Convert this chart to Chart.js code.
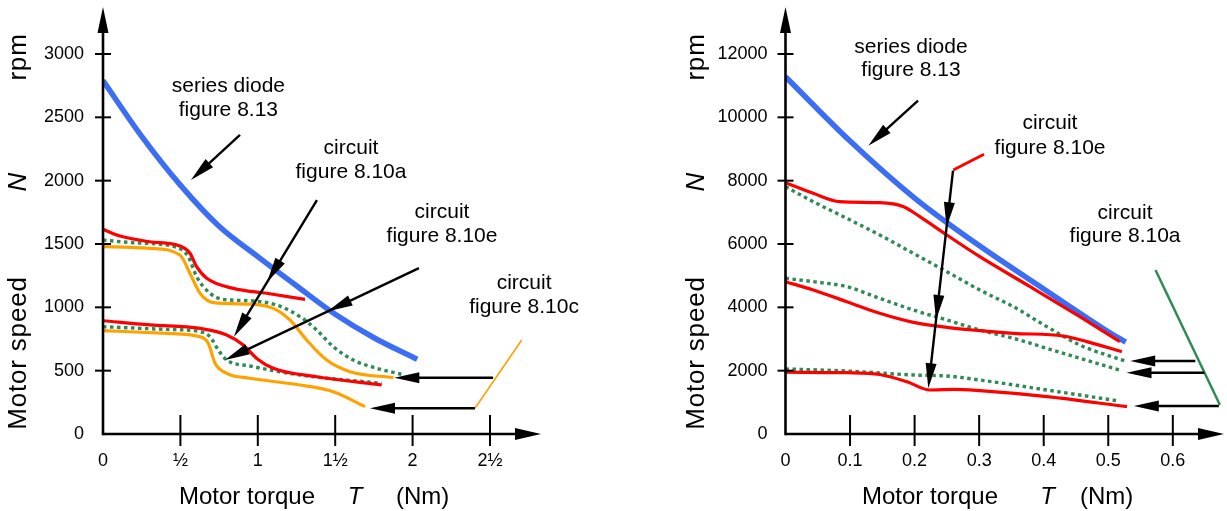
<!DOCTYPE html>
<html><head><meta charset="utf-8">
<script src="https://cdn.jsdelivr.net/npm/chart.js@4/dist/chart.umd.min.js"></script>
<style>
html,body{margin:0;padding:0;background:#fff;width:1227px;height:511px;overflow:hidden}
#lw{position:absolute;left:0;top:0;width:620px;height:511px}
#rw{position:absolute;left:620px;top:0;width:607px;height:511px}
canvas{display:block}
</style></head><body>
<div id="lw"><canvas id="lc" width="620" height="511"></canvas></div>
<div id="rw"><canvas id="rc" width="607" height="511"></canvas></div>
<script>
// ---------- LEFT PANEL DATA (torque Nm, speed rpm) ----------
const leftTorqueTicks = [0, 0.5, 1, 1.5, 2, 2.5];
const leftTorqueTickLabels = ['0', '½', '1', '1½', '2', '2½'];
const leftSpeedTicks = [0, 500, 1000, 1500, 2000, 2500, 3000];
const leftSpeedTickLabels = ['0', '500', '1000', '1500', '2000', '2500', '3000'];

const leftDiodeT = [0, 0.25, 0.5, 0.75, 1.0, 1.25, 1.5, 1.75, 2.03];
const leftDiodeN = [2790, 2350, 1965, 1640, 1400, 1170, 945, 760, 590];

const leftRedHighT = [0, 0.11, 0.3, 0.497, 0.562, 0.605, 0.67, 0.842, 1.057, 1.305];
const leftRedHighN = [1616, 1563, 1518, 1484, 1427, 1321, 1229, 1150, 1111, 1063];

const leftGreenHighT = [0, 0.196, 0.476, 0.551, 0.605, 0.691, 0.777, 0.95, 1.122, 1.273, 1.38, 1.488, 1.617, 1.768, 1.94];
const leftGreenHighN = [1531, 1510, 1474, 1400, 1242, 1111, 1063, 1052, 1018, 926, 821, 689, 584, 519, 468];

const leftOrangeHighT = [0, 0.304, 0.497, 0.562, 0.627, 0.713, 0.95, 1.10, 1.208, 1.316, 1.445, 1.596, 1.875];
const leftOrangeHighN = [1479, 1466, 1413, 1268, 1111, 1037, 1026, 992, 900, 742, 584, 492, 445];

const leftRedLowT = [0, 0.304, 0.627, 0.799, 0.906, 0.993, 1.10, 1.38, 1.80];
const leftRedLowN = [894, 861, 834, 782, 703, 597, 519, 452, 387];

const leftGreenLowT = [0, 0.411, 0.627, 0.691, 0.745, 0.799, 0.95, 1.273, 1.80];
const leftGreenLowN = [847, 826, 808, 768, 663, 584, 537, 466, 400];

const leftOrangeLowT = [0, 0.411, 0.627, 0.68, 0.724, 0.799, 0.95, 1.273, 1.488, 1.693];
const leftOrangeLowN = [816, 795, 768, 716, 558, 479, 440, 387, 334, 216];

// ---------- RIGHT PANEL DATA ----------
const rightTorqueTicks = [0, 0.1, 0.2, 0.3, 0.4, 0.5, 0.6];
const rightTorqueTickLabels = ['0', '0.1', '0.2', '0.3', '0.4', '0.5', '0.6'];
const rightSpeedTicks = [0, 2000, 4000, 6000, 8000, 10000, 12000];
const rightSpeedTickLabels = ['0', '2000', '4000', '6000', '8000', '10000', '12000'];

const rightDiodeT = [0, 0.1, 0.2, 0.3, 0.4, 0.5, 0.527];
const rightDiodeN = [11280, 9250, 7450, 5950, 4580, 3230, 2900];

const rightRedHighT = [0, 0.043, 0.084, 0.146, 0.183, 0.208, 0.25, 0.301, 0.379, 0.456, 0.518];
const rightRedHighN = [7937, 7600, 7337, 7305, 7179, 6863, 6284, 5600, 4652, 3705, 2916];

const rightGreenHighT = [0, 0.043, 0.095, 0.146, 0.198, 0.25, 0.301, 0.353, 0.405, 0.456, 0.529];
const rightGreenHighN = [7810, 7337, 6810, 6284, 5705, 5126, 4547, 4021, 3389, 2810, 2284];

const rightRedMidT = [0, 0.043, 0.095, 0.146, 0.198, 0.25, 0.301, 0.353, 0.43, 0.467, 0.521];
const rightRedMidN = [4810, 4547, 4179, 3811, 3526, 3368, 3263, 3179, 3095, 2916, 2600];

const rightGreenMidT = [0, 0.043, 0.095, 0.146, 0.198, 0.25, 0.301, 0.353, 0.405, 0.456, 0.521];
const rightGreenMidN = [4916, 4810, 4652, 4284, 3916, 3600, 3284, 3021, 2705, 2389, 2000];

const rightRedLowT = [0, 0.095, 0.146, 0.188, 0.224, 0.26, 0.301, 0.405, 0.529];
const rightRedLowN = [1950, 1935, 1880, 1652, 1389, 1410, 1368, 1179, 863];

const rightGreenLowT = [0, 0.095, 0.198, 0.25, 0.301, 0.405, 0.513];
const rightGreenLowN = [2053, 1989, 1863, 1832, 1705, 1389, 1053];

// ---------- STYLES ----------
const FONT = "'Liberation Sans', Arial, Helvetica, sans-serif";
const BLUE = '#3c6ef5', RED = '#ff0000', ORANGE = '#ffa200', GREEN = '#2e8b57';
Chart.defaults.font.family = FONT;
Chart.defaults.color = '#000';

function pts(T, N) { return T.map((t, i) => ({x: t, y: N[i]})); }
function ds(T, N, color, width, dash) {
  return {data: pts(T, N), showLine: true, pointRadius: 0, borderColor: color, borderWidth: width,
    borderDash: dash || [], cubicInterpolationMode: 'monotone', fill: false,
    borderCapStyle: 'butt', borderJoinStyle: 'round'};
}
const DOT = [3.5, 3.5];

// ---------- ANNOTATIONS (data units) ----------
const leftNotes = {
  texts: [
    ['series diode', 0.81, 2747], ['figure 8.13', 0.81, 2558],
    ['circuit', 1.602, 2258], ['figure 8.10a', 1.602, 2068],
    ['circuit', 2.19, 1753], ['figure 8.10e', 2.19, 1563],
    ['circuit', 2.72, 1192], ['figure 8.10c', 2.72, 1003]
  ],
  arrows: [
    {from: [0.885, 2361], to: [0.568, 2005], heads: [1]},
    {from: [1.382, 1847], to: [0.846, 768], heads: [0.6, 1]},
    {from: [2.041, 1310], to: [0.788, 584], heads: [0.47, 1]},
    {from: [2.52, 444], to: [1.882, 444], heads: [1]},
    {from: [2.403, 203], to: [1.725, 203], heads: [1]}
  ],
  lines: [
    {from: [2.403, 203], to: [2.705, 742], color: ORANGE, width: 1.6}
  ],
  title: {mt: 76, T: 252, nm: 293, y: 497, vx: 19}
};
const rightNotes = {
  texts: [
    ['series diode', 0.1944, 12221], ['figure 8.13', 0.1944, 11495],
    ['circuit', 0.4098, 9821], ['figure 8.10e', 0.4098, 9032],
    ['circuit', 0.526, 6979], ['figure 8.10a', 0.526, 6253]
  ],
  arrows: [
    {from: [0.2053, 10525], to: [0.1283, 9104], heads: [1]},
    {from: [0.2595, 8315], to: [0.2212, 1443], heads: [0.26, 0.686, 1]},
    {from: [0.6349, 2305], to: [0.534, 2305], heads: [1]},
    {from: [0.6488, 1936], to: [0.5283, 1936], heads: [1]},
    {from: [0.6713, 884], to: [0.5396, 884], heads: [1]}
  ],
  lines: [
    {from: [0.26, 8337], to: [0.3075, 8833], color: RED, width: 3},
    {from: [0.5732, 5179], to: [0.673, 916], color: GREEN, width: 2.5}
  ],
  title: {mt: 76.5, T: 262, nm: 294.5, y: 497, vx: 77}
};

function head(ctx, x, y, ang, len, hw) {
  ctx.save();
  ctx.translate(x, y); ctx.rotate(ang);
  ctx.beginPath(); ctx.moveTo(0, 0); ctx.lineTo(-len, -hw); ctx.lineTo(-len, hw); ctx.closePath();
  ctx.fill();
  ctx.restore();
}

function decorPlugin(notes, xTicks, yTicks) {
  return {
    id: 'decor',
    afterDraw(chart) {
      const ctx = chart.ctx, a = chart.chartArea, sx = chart.scales.x, sy = chart.scales.y;
      const P = (v) => [sx.getPixelForValue(v[0]), sy.getPixelForValue(v[1])];
      ctx.save();
      ctx.strokeStyle = '#000'; ctx.fillStyle = '#000';
      // axes
      ctx.lineWidth = 2.6; ctx.lineCap = 'butt';
      ctx.beginPath(); ctx.moveTo(a.left, a.bottom); ctx.lineTo(a.right - 20, a.bottom); ctx.stroke();
      ctx.beginPath(); ctx.moveTo(a.left, a.bottom + 1.3); ctx.lineTo(a.left, a.top + 20); ctx.stroke();
      head(ctx, a.right, a.bottom, 0, 26, 6);
      head(ctx, a.left, a.top, -Math.PI / 2, 26, 5.5);
      // tick marks
      ctx.lineWidth = 2;
      xTicks.forEach(v => { if (v === 0) return; const x = sx.getPixelForValue(v);
        ctx.beginPath(); ctx.moveTo(x, a.bottom - 19); ctx.lineTo(x, a.bottom + 12); ctx.stroke(); });
      yTicks.forEach(v => { if (v === 0) return; const y = sy.getPixelForValue(v);
        ctx.beginPath(); ctx.moveTo(a.left - 8, y); ctx.lineTo(a.left + 8, y); ctx.stroke(); });
      // pointer lines
      notes.lines.forEach(l => {
        const p1 = P(l.from), p2 = P(l.to);
        ctx.strokeStyle = l.color; ctx.lineWidth = l.width;
        ctx.beginPath(); ctx.moveTo(p1[0], p1[1]); ctx.lineTo(p2[0], p2[1]); ctx.stroke();
      });
      // arrows
      ctx.strokeStyle = '#000'; ctx.fillStyle = '#000'; ctx.lineWidth = 2.4;
      notes.arrows.forEach(ar => {
        const p1 = P(ar.from), p2 = P(ar.to);
        const ang = Math.atan2(p2[1] - p1[1], p2[0] - p1[0]);
        const L = Math.hypot(p2[0] - p1[0], p2[1] - p1[1]);
        ctx.beginPath(); ctx.moveTo(p1[0], p1[1]);
        ctx.lineTo(p2[0] - Math.cos(ang) * 18, p2[1] - Math.sin(ang) * 18); ctx.stroke();
        ar.heads.forEach(f => {
          head(ctx, p1[0] + (p2[0] - p1[0]) * f, p1[1] + (p2[1] - p1[1]) * f, ang, 25, 5.5);
        });
      });
      // annotation texts
      ctx.font = '21px ' + FONT; ctx.textAlign = 'center'; ctx.textBaseline = 'middle';
      notes.texts.forEach(t => { const p = P([t[1], t[2]]); ctx.fillText(t[0], p[0], p[1]); });
      // x axis title
      const tt = notes.title;
      ctx.font = '24px ' + FONT; ctx.textAlign = 'left';
      ctx.fillText('Motor torque', a.left + tt.mt, tt.y);
      ctx.fillText('(Nm)', a.left + tt.nm, tt.y);
      ctx.font = 'italic 24px ' + FONT; ctx.textAlign = 'center';
      ctx.fillText('T', a.left + tt.T, tt.y);
      // y axis titles (rotated)
      ctx.save();
      ctx.translate(tt.vx, 0); ctx.rotate(-Math.PI / 2);
      ctx.textAlign = 'center'; ctx.textBaseline = 'middle';
      ctx.font = '26px ' + FONT;
      try { ctx.letterSpacing = '0.8px'; } catch (e) {}
      ctx.fillText('Motor speed', -353, 0);
      ctx.fillText('rpm', -57, 0);
      try { ctx.letterSpacing = '0px'; } catch (e) {}
      ctx.font = 'italic 26px ' + FONT;
      ctx.fillText('N', -182, 0);
      ctx.restore();
      ctx.restore();
    }
  };
}

function zeroPad(s) { s.paddingLeft = 0; s.paddingRight = 0; s.paddingTop = 0; s.paddingBottom = 0; }

function makeChart(id, cfg) {
  return new Chart(document.getElementById(id), {
    type: 'scatter',
    data: {datasets: cfg.datasets},
    options: {
      responsive: false, animation: false, events: [],
      layout: {padding: {left: 0, top: 7, right: cfg.padRight, bottom: 0}},
      plugins: {legend: {display: false}, tooltip: {enabled: false}},
      scales: {
        x: {type: 'linear', min: 0, max: cfg.xMax,
          grid: {display: false, drawTicks: false}, border: {display: false},
          afterBuildTicks: s => { s.ticks = cfg.xTicks.map(v => ({value: v})); },
          afterFit: s => { s.height = 77; zeroPad(s); },
          ticks: {autoSkip: false, maxRotation: 0, padding: 16.2, font: {size: 18}, color: '#000',
            callback: v => cfg.xLabels[cfg.xTicks.indexOf(v)]}},
        y: {type: 'linear', min: 0, max: cfg.yMax,
          grid: {display: false, drawTicks: false}, border: {display: false},
          afterBuildTicks: s => { s.ticks = cfg.yTicks.map(v => ({value: v})); },
          afterFit: s => { s.width = cfg.yWidth; zeroPad(s); },
          ticks: {autoSkip: false, padding: cfg.yPad, font: {size: 18}, color: '#000',
            callback: v => cfg.yLabels[cfg.yTicks.indexOf(v)]}}
      }
    },
    plugins: [decorPlugin(cfg.notes, cfg.xTicks, cfg.yTicks)]
  });
}

makeChart('lc', {
  datasets: [
    ds(leftDiodeT, leftDiodeN, BLUE, 5.5),
    ds(leftRedHighT, leftRedHighN, RED, 3.2),
    ds(leftRedLowT, leftRedLowN, RED, 3.2),
    ds(leftGreenHighT, leftGreenHighN, GREEN, 3.4, DOT),
    ds(leftGreenLowT, leftGreenLowN, GREEN, 3.4, DOT),
    ds(leftOrangeHighT, leftOrangeHighN, ORANGE, 3.2),
    ds(leftOrangeLowT, leftOrangeLowN, ORANGE, 3.2)
  ],
  xMax: 2.8295, yMax: 3371, padRight: 79, yWidth: 103, yPad: 19,
  xTicks: leftTorqueTicks, xLabels: leftTorqueTickLabels,
  yTicks: leftSpeedTicks, yLabels: leftSpeedTickLabels,
  notes: leftNotes
});

makeChart('rc', {
  datasets: [
    ds(rightRedHighT, rightRedHighN, RED, 3.2),
    ds(rightDiodeT, rightDiodeN, BLUE, 5.5),
    ds(rightRedMidT, rightRedMidN, RED, 3.2),
    ds(rightRedLowT, rightRedLowN, RED, 3.2),
    ds(rightGreenHighT, rightGreenHighN, GREEN, 3.4, DOT),
    ds(rightGreenMidT, rightGreenMidN, GREEN, 3.4, DOT),
    ds(rightGreenLowT, rightGreenLowN, GREEN, 3.4, DOT)
  ],
  xMax: 0.6793, yMax: 13484, padRight: 3, yWidth: 165.5, yPad: 18,
  xTicks: rightTorqueTicks, xLabels: rightTorqueTickLabels,
  yTicks: rightSpeedTicks, yLabels: rightSpeedTickLabels,
  notes: rightNotes
});
</script>
</body></html>
